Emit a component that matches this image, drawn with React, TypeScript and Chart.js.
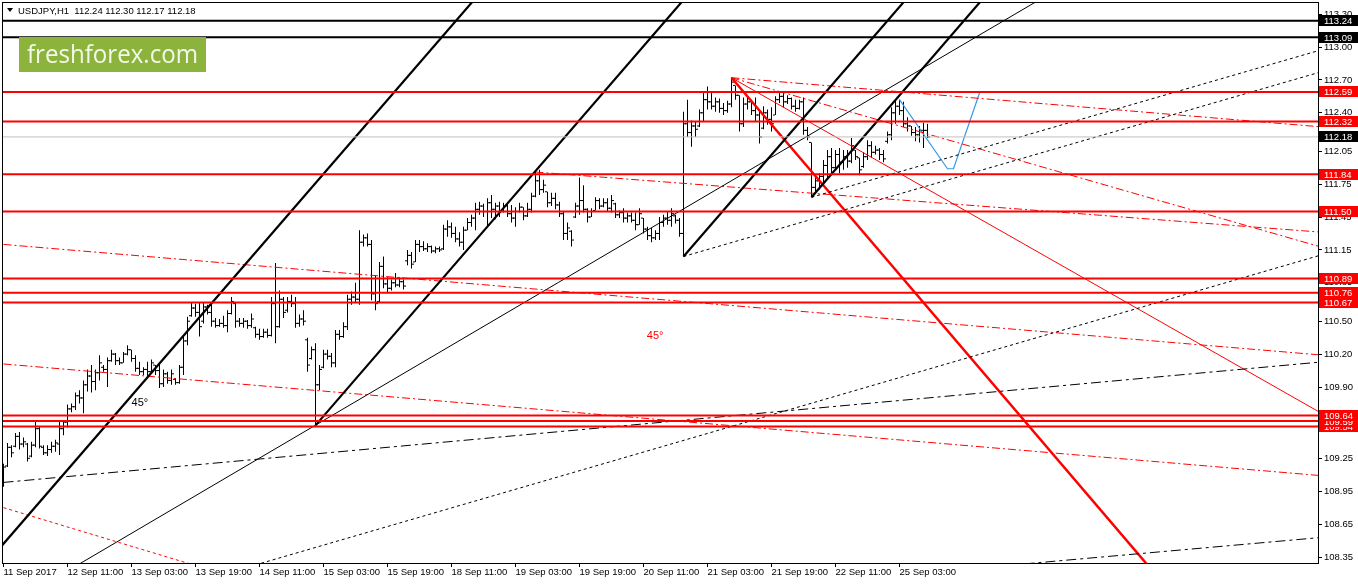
import React, { useEffect, useRef } from "react";
import { Chart, registerables } from "chart.js";

Chart.register(...registerables);

// ---------------- DATA ----------------
const SYMBOL_TITLE = "USDJPY,H1  112.24 112.30 112.17 112.18";
const LOGO_TEXT = "freshforex.com";

const TIME_TICK_BARS = [0, 16, 32, 48, 64, 80, 96, 112, 128, 144, 160, 176, 192, 208, 224];
const TIME_LABELS = [
  "11 Sep 2017", "12 Sep 11:00", "13 Sep 03:00", "13 Sep 19:00", "14 Sep 11:00",
  "15 Sep 03:00", "15 Sep 19:00", "18 Sep 11:00", "19 Sep 03:00", "19 Sep 19:00",
  "20 Sep 11:00", "21 Sep 03:00", "21 Sep 19:00", "22 Sep 11:00", "25 Sep 03:00",
];

const PRICE_TICKS = [113.3, 113.0, 112.7, 112.4, 112.05, 111.75, 111.45, 111.15, 110.85,
  110.5, 110.2, 109.9, 109.6, 109.25, 108.95, 108.65, 108.35];

const OPEN = [
  109.05, 109.18, 109.35, 109.36, 109.45, 109.38, 109.38, 109.27, 109.37, 109.52,
  109.35, 109.30, 109.33, 109.36, 109.38, 109.52, 109.58, 109.70, 109.72, 109.82,
  109.80, 109.92, 110.00, 109.95, 110.03, 110.08, 110.06, 110.14, 110.20, 110.14,
  110.12, 110.20, 110.24, 110.16, 110.07, 110.04, 110.06, 110.04, 110.10, 110.05,
  109.93, 110.02, 109.96, 109.97, 109.94, 110.08, 110.32, 110.55, 110.62, 110.58,
  110.50, 110.63, 110.58, 110.50, 110.46, 110.48, 110.46, 110.57, 110.66, 110.50,
  110.48, 110.50, 110.46, 110.44, 110.38, 110.36, 110.40, 110.37, 110.66, 110.45,
  110.70, 110.60, 110.68, 110.66, 110.48, 110.52, 110.33, 110.16, 110.24, 109.92,
  110.08, 110.20, 110.18, 110.12, 110.38, 110.36, 110.45, 110.70, 110.72, 110.70,
  111.22, 111.26, 111.20, 110.75, 110.68, 111.00, 110.84, 110.80, 110.85, 110.83,
  110.86, 111.05, 111.10, 111.04, 111.20, 111.18, 111.16, 111.18, 111.14, 111.16,
  111.16, 111.34, 111.36, 111.30, 111.25, 111.22, 111.33, 111.40, 111.44, 111.52,
  111.55, 111.50, 111.58, 111.52, 111.55, 111.50, 111.55, 111.48, 111.44, 111.50,
  111.54, 111.46, 111.52, 111.64, 111.78, 111.70, 111.68, 111.58, 111.62, 111.56,
  111.48, 111.30, 111.32, 111.45, 111.55, 111.60, 111.52, 111.45, 111.51, 111.60,
  111.55, 111.58, 111.53, 111.57, 111.47, 111.49, 111.44, 111.46, 111.42, 111.38,
  111.44, 111.34, 111.28, 111.26, 111.30, 111.40, 111.44, 111.42, 111.46, 111.42,
  111.30, 112.30, 112.22, 112.28, 112.28, 112.40, 112.52, 112.50, 112.46, 112.50,
  112.44, 112.42, 112.48, 112.65, 112.56, 112.30, 112.48, 112.50, 112.42, 112.38,
  112.26, 112.40, 112.34, 112.38, 112.52, 112.55, 112.50, 112.53, 112.46, 112.44,
  112.50, 112.24, 112.13, 111.72, 111.78, 111.82, 111.92, 112.00, 111.90, 112.02,
  111.95, 112.00, 111.96, 112.06, 111.99, 111.91, 112.00, 112.10, 112.04, 112.06,
  112.02, 112.14, 112.20, 112.40, 112.46, 112.42, 112.30, 112.28, 112.22, 112.20,
  112.24, 112.24,
];

const HIGH = [
  109.20, 109.39, 109.37, 109.48, 109.49, 109.44, 109.39, 109.40, 109.58, 109.54,
  109.37, 109.37, 109.40, 109.42, 109.58, 109.60, 109.74, 109.75, 109.85, 109.87,
  109.96, 110.06, 110.10, 110.06, 110.19, 110.10, 110.17, 110.24, 110.21, 110.17,
  110.22, 110.28, 110.24, 110.19, 110.13, 110.08, 110.13, 110.15, 110.10, 110.12,
  110.06, 110.04, 110.06, 109.98, 110.10, 110.36, 110.54, 110.67, 110.66, 110.67,
  110.67, 110.65, 110.66, 110.53, 110.52, 110.55, 110.60, 110.72, 110.67, 110.53,
  110.53, 110.51, 110.57, 110.45, 110.43, 110.43, 110.43, 110.72, 111.03, 110.78,
  110.72, 110.72, 110.74, 110.72, 110.56, 110.60, 110.35, 110.27, 110.30, 110.10,
  110.24, 110.24, 110.21, 110.42, 110.42, 110.49, 110.74, 110.77, 110.85, 111.33,
  111.29, 111.30, 111.24, 110.92, 111.04, 111.09, 110.90, 110.88, 110.94, 110.90,
  110.88, 111.15, 111.13, 111.24, 111.24, 111.23, 111.21, 111.19, 111.18, 111.18,
  111.38, 111.42, 111.40, 111.36, 111.31, 111.36, 111.44, 111.47, 111.58, 111.59,
  111.57, 111.62, 111.65, 111.58, 111.59, 111.58, 111.58, 111.56, 111.54, 111.58,
  111.54, 111.58, 111.67, 111.86, 111.88, 111.79, 111.68, 111.67, 111.67, 111.59,
  111.50, 111.40, 111.33, 111.58, 111.81, 111.74, 111.53, 111.53, 111.63, 111.62,
  111.62, 111.62, 111.65, 111.58, 111.51, 111.53, 111.49, 111.49, 111.49, 111.53,
  111.44, 111.36, 111.35, 111.33, 111.45, 111.47, 111.50, 111.53, 111.47, 111.44,
  112.41, 112.52, 112.33, 112.32, 112.43, 112.58, 112.64, 112.59, 112.54, 112.53,
  112.49, 112.51, 112.72, 112.65, 112.56, 112.54, 112.55, 112.52, 112.54, 112.43,
  112.46, 112.43, 112.45, 112.55, 112.59, 112.58, 112.56, 112.54, 112.52, 112.52,
  112.54, 112.27, 112.13, 111.83, 111.85, 111.97, 112.06, 112.08, 112.06, 112.08,
  112.06, 112.06, 112.17, 112.06, 111.99, 112.04, 112.15, 112.14, 112.10, 112.08,
  112.06, 112.23, 112.45, 112.52, 112.52, 112.50, 112.36, 112.28, 112.27, 112.28,
  112.31, 112.30,
];

const LOW = [
  108.99, 109.17, 109.26, 109.35, 109.33, 109.35, 109.22, 109.26, 109.35, 109.34,
  109.28, 109.27, 109.30, 109.31, 109.28, 109.46, 109.53, 109.67, 109.69, 109.75,
  109.66, 109.86, 109.85, 109.87, 109.96, 110.04, 109.90, 110.13, 110.10, 110.10,
  110.12, 110.19, 110.13, 110.04, 110.01, 110.01, 110.00, 110.03, 110.01, 109.89,
  109.90, 109.93, 109.92, 109.92, 109.93, 110.01, 110.28, 110.54, 110.54, 110.36,
  110.48, 110.56, 110.45, 110.44, 110.45, 110.44, 110.40, 110.56, 110.44, 110.45,
  110.44, 110.43, 110.44, 110.35, 110.33, 110.35, 110.35, 110.36, 110.30, 110.44,
  110.53, 110.58, 110.63, 110.44, 110.45, 110.46, 110.04, 110.15, 109.55, 109.87,
  110.07, 110.15, 110.08, 110.08, 110.33, 110.35, 110.42, 110.65, 110.67, 110.65,
  111.18, 111.18, 110.69, 110.60, 110.67, 110.80, 110.76, 110.78, 110.81, 110.81,
  110.79, 111.01, 110.98, 111.04, 111.13, 111.14, 111.13, 111.12, 111.12, 111.13,
  111.15, 111.27, 111.26, 111.22, 111.18, 111.15, 111.33, 111.36, 111.33, 111.47,
  111.45, 111.36, 111.44, 111.43, 111.45, 111.49, 111.45, 111.40, 111.36, 111.49,
  111.42, 111.45, 111.49, 111.63, 111.65, 111.67, 111.54, 111.55, 111.52, 111.45,
  111.24, 111.24, 111.18, 111.44, 111.47, 111.49, 111.40, 111.45, 111.51, 111.52,
  111.54, 111.50, 111.49, 111.44, 111.44, 111.40, 111.40, 111.40, 111.33, 111.38,
  111.30, 111.24, 111.22, 111.24, 111.24, 111.36, 111.38, 111.36, 111.39, 111.27,
  111.09, 112.18, 112.09, 112.18, 112.27, 112.32, 112.43, 112.43, 112.41, 112.40,
  112.38, 112.40, 112.45, 112.52, 112.23, 112.27, 112.43, 112.38, 112.32, 112.12,
  112.25, 112.29, 112.23, 112.38, 112.49, 112.45, 112.48, 112.43, 112.41, 112.43,
  112.20, 112.15, 111.63, 111.68, 111.70, 111.77, 111.79, 111.85, 111.89, 111.85,
  111.88, 111.90, 111.94, 111.97, 111.83, 111.90, 111.97, 111.99, 112.02, 111.97,
  111.95, 112.12, 112.15, 112.30, 112.38, 112.27, 112.23, 112.19, 112.14, 112.13,
  112.08, 112.17,
];

const CLOSE = [
  109.17, 109.35, 109.30, 109.45, 109.38, 109.40, 109.25, 109.37, 109.52, 109.36,
  109.30, 109.33, 109.36, 109.39, 109.52, 109.58, 109.70, 109.72, 109.82, 109.80,
  109.92, 110.00, 109.95, 110.03, 110.12, 110.06, 110.14, 110.20, 110.14, 110.12,
  110.20, 110.24, 110.16, 110.07, 110.04, 110.06, 110.04, 110.12, 110.05, 109.93,
  110.02, 109.96, 110.02, 109.94, 110.08, 110.32, 110.50, 110.62, 110.58, 110.45,
  110.63, 110.58, 110.50, 110.46, 110.48, 110.46, 110.57, 110.68, 110.50, 110.48,
  110.50, 110.46, 110.52, 110.38, 110.36, 110.40, 110.37, 110.66, 110.45, 110.70,
  110.58, 110.68, 110.66, 110.48, 110.52, 110.50, 110.10, 110.24, 109.92, 110.06,
  110.20, 110.18, 110.12, 110.38, 110.36, 110.45, 110.70, 110.72, 110.70, 111.22,
  111.26, 111.20, 110.75, 110.66, 111.00, 110.84, 110.80, 110.85, 110.83, 110.86,
  110.82, 111.10, 111.02, 111.20, 111.18, 111.16, 111.18, 111.14, 111.16, 111.15,
  111.34, 111.36, 111.30, 111.25, 111.22, 111.33, 111.40, 111.44, 111.52, 111.55,
  111.50, 111.58, 111.52, 111.55, 111.50, 111.55, 111.48, 111.44, 111.50, 111.54,
  111.46, 111.52, 111.64, 111.78, 111.70, 111.74, 111.58, 111.62, 111.56, 111.48,
  111.30, 111.35, 111.24, 111.55, 111.60, 111.52, 111.45, 111.50, 111.60, 111.55,
  111.58, 111.53, 111.60, 111.47, 111.49, 111.44, 111.46, 111.42, 111.38, 111.48,
  111.34, 111.28, 111.26, 111.30, 111.40, 111.44, 111.42, 111.48, 111.42, 111.30,
  112.30, 112.22, 112.28, 112.25, 112.40, 112.52, 112.50, 112.46, 112.50, 112.44,
  112.42, 112.48, 112.68, 112.56, 112.30, 112.48, 112.50, 112.42, 112.38, 112.18,
  112.40, 112.34, 112.30, 112.52, 112.55, 112.50, 112.53, 112.46, 112.44, 112.50,
  112.24, 112.18, 111.72, 111.78, 111.82, 111.92, 112.00, 111.90, 112.02, 111.95,
  112.00, 111.96, 112.10, 112.00, 111.88, 112.00, 112.10, 112.04, 112.06, 112.02,
  111.98, 112.20, 112.40, 112.46, 112.42, 112.30, 112.28, 112.22, 112.20, 112.24,
  112.24, 112.18,
];

// horizontal levels
const RED_LEVELS = [112.59, 112.32, 111.84, 111.5, 110.89, 110.76, 110.67, 109.54, 109.59, 109.64];
const BLACK_LEVELS = [113.24, 113.09];
const BID_LEVEL = 112.18;

// trend lines: [bar index, price] pairs
const THICK_BLACK_TRENDS = [
  [[-5, 108.26], [125, 113.74]],
  [[78, 109.55], [175, 113.64]],
  [[170, 111.09], [240, 114.04]],
  [[202, 111.63], [260, 114.08]],
];
const THIN_BLACK_TRENDS = [[[0, 107.88], [300, 114.31]]];
const DOTTED_BLACK_TRENDS = [
  [[170, 111.09], [330, 112.78]],
  [[202, 111.63], [330, 112.98]],
  [[50, 108.14], [330, 111.11]],
];
const DASHDOT_BLACK_TRENDS = [
  [[0, 109.03], [330, 110.13]],
  [[250, 108.27], [330, 108.53]],
];
const THICK_RED_TRENDS = [[[182, 112.72], [300, 107.68]]];
const THIN_RED_TRENDS = [[[182, 112.72], [330, 109.65]]];
const DASHED_RED_TRENDS = [
  [[182, 112.72], [330, 112.27]],
  [[182, 112.72], [330, 111.17]],
  [[133, 111.86], [330, 111.31]],
  [[0, 111.2], [330, 110.19]],
  [[0, 110.11], [330, 109.09]],
];
const DOTTED_RED_TRENDS = [[[0, 108.8], [60, 108.14]]];
const BLUE_PATH = [[224, 112.52], [236, 111.89], [237.5, 111.89], [244, 112.58]];

const NOTE_BARS = [34.1, 162.9];
const NOTE_PRICES = [109.755, 110.366];
const NOTE_TEXTS = ["45°", "45°"];
const NOTE_COLORS = ["#000000", "#ff0000"];

// ---------------- CHART ----------------
const FONT_FAMILY = "'Liberation Sans', Arial, sans-serif";
const RED = "#ff0000";

type Pt = number[];
const toXY = (pts: Pt[]) => pts.map(([x, y]) => ({ x, y }));
const lineDs = (pts: Pt[], color: string, width: number, dash: number[] = []) => ({
  type: "line" as const,
  data: toXY(pts),
  borderColor: color,
  borderWidth: width,
  borderDash: dash,
  pointRadius: 0,
  pointHoverRadius: 0,
  fill: false,
  tension: 0,
  clip: 0,
  order: 1,
});

const overlayPlugin = {
  id: "mt4Overlay",
  afterDraw(chart: any) {
    const { ctx, chartArea } = chart;
    const xs = chart.scales.x;
    const ys = chart.scales.y;
    ctx.save();

    // frame
    ctx.strokeStyle = "#000";
    ctx.lineWidth = 1;
    ctx.setLineDash([]);
    ctx.strokeRect(chartArea.left + 0.5, chartArea.top + 0.5,
      chartArea.right - chartArea.left, chartArea.bottom - chartArea.top);

    // angle notes
    ctx.font = `11px ${FONT_FAMILY}`;
    ctx.textAlign = "center";
    ctx.textBaseline = "middle";
    NOTE_TEXTS.forEach((t, i) => {
      ctx.fillStyle = NOTE_COLORS[i];
      ctx.fillText(t, xs.getPixelForValue(NOTE_BARS[i]), ys.getPixelForValue(NOTE_PRICES[i]));
    });

    // price tags on the right axis
    const boxLeft = chartArea.right + 1;
    const boxW = chart.width - boxLeft;
    ctx.font = `9.5px ${FONT_FAMILY}`;
    ctx.textAlign = "left";
    ctx.textBaseline = "middle";
    const tag = (v: number, bg: string) => {
      const py = ys.getPixelForValue(v);
      const top = Math.round(py - 5.5);
      ctx.fillStyle = bg;
      ctx.fillRect(boxLeft, top, boxW, 11);
      ctx.fillStyle = "#ffffff";
      ctx.fillText(v.toFixed(2), chartArea.right + 6, top + 6);
    };
    BLACK_LEVELS.forEach((v) => tag(v, "#000000"));
    RED_LEVELS.forEach((v) => tag(v, RED));
    tag(BID_LEVEL, "#000000");

    // title
    ctx.fillStyle = "#000";
    ctx.beginPath();
    ctx.moveTo(7, 8);
    ctx.lineTo(13, 8);
    ctx.lineTo(10, 12);
    ctx.closePath();
    ctx.fill();
    ctx.font = `9.5px ${FONT_FAMILY}`;
    ctx.textAlign = "left";
    ctx.textBaseline = "middle";
    ctx.fillText(SYMBOL_TITLE, 18, 11);

    // logo
    ctx.fillStyle = "#8cb43c";
    ctx.fillRect(19, 37, 187, 35);
    ctx.fillStyle = "#f4f8ea";
    ctx.font = `26px 'Open Sans', 'Noto Sans', sans-serif`;
    ctx.textBaseline = "alphabetic";
    ctx.fillText(LOGO_TEXT, 27, 63, 171);

    ctx.restore();
  },
};

export default function App() {
  const ref = useRef<HTMLCanvasElement>(null);

  useEffect(() => {
    document.body.style.margin = "0";
    const canvas = ref.current;
    if (!canvas) return;

    const bars = HIGH.map((h, i) => ({ x: i, y: [LOW[i], h] }));
    const opens = OPEN.map((o, i) => ({ x: i - 0.375, y: o }));
    const closes = CLOSE.map((c, i) => ({ x: i + 0.375, y: c }));

    const datasets: any[] = [];
    // horizontal levels
    BLACK_LEVELS.forEach((v) => datasets.push(lineDs([[-5, v], [340, v]], "#000", 2)));
    RED_LEVELS.forEach((v) => datasets.push(lineDs([[-5, v], [340, v]], RED, 2)));
    datasets.push(lineDs([[-5, BID_LEVEL], [340, BID_LEVEL]], "#c0c0c0", 1));
    // trend lines
    THICK_BLACK_TRENDS.forEach((p) => datasets.push(lineDs(p, "#000", 2.2)));
    THIN_BLACK_TRENDS.forEach((p) => datasets.push(lineDs(p, "#000", 1)));
    DOTTED_BLACK_TRENDS.forEach((p) => datasets.push(lineDs(p, "#000", 1, [3, 3])));
    DASHDOT_BLACK_TRENDS.forEach((p) => datasets.push(lineDs(p, "#000", 1, [10, 4, 3, 4])));
    THICK_RED_TRENDS.forEach((p) => datasets.push(lineDs(p, RED, 2.5)));
    THIN_RED_TRENDS.forEach((p) => datasets.push(lineDs(p, RED, 1)));
    DASHED_RED_TRENDS.forEach((p) => datasets.push(lineDs(p, RED, 1, [8, 3, 2, 3])));
    DOTTED_RED_TRENDS.forEach((p) => datasets.push(lineDs(p, RED, 1, [3, 3])));
    datasets.push(lineDs(BLUE_PATH, "#3399e6", 1.2));

    // OHLC bars
    datasets.push({
      type: "bar",
      data: bars,
      backgroundColor: "#000",
      borderWidth: 0,
      barThickness: 1,
      inflateAmount: 0,
      grouped: false,
      order: 10,
    });
    datasets.push({
      type: "line",
      data: opens,
      showLine: false,
      pointStyle: "line",
      pointRadius: 1,
      pointHoverRadius: 1,
      pointBorderColor: "#000",
      pointBorderWidth: 1,
      order: 10,
    });
    datasets.push({
      type: "line",
      data: closes,
      showLine: false,
      pointStyle: "line",
      pointRadius: 1,
      pointHoverRadius: 1,
      pointBorderColor: "#000",
      pointBorderWidth: 1,
      order: 10,
    });

    const tickFont = { family: FONT_FAMILY, size: 9.5 };

    const chart = new Chart(canvas, {
      type: "line",
      data: { datasets },
      options: {
        animation: false,
        responsive: false,
        devicePixelRatio: 1,
        events: [],
        layout: { padding: { left: 2, top: 2, right: 0, bottom: 0 } },
        plugins: { legend: { display: false }, tooltip: { enabled: false }, title: { display: false } },
        scales: {
          x: {
            type: "linear",
            position: "bottom",
            min: -0.375,
            max: 328.625,
            offset: false,
            bounds: "data",
            grid: { display: true, drawOnChartArea: false, drawTicks: true, tickLength: 4, color: "#000", offset: false },
            border: { display: true, color: "#000", width: 1 },
            ticks: {
              autoSkip: false,
              maxRotation: 0,
              minRotation: 0,
              align: "start",
              padding: 0,
              color: "#000",
              font: tickFont,
              callback: (_v: any, idx: number) => TIME_LABELS[idx],
            },
            afterBuildTicks: (s: any) => {
              s.ticks = TIME_TICK_BARS.map((v) => ({ value: v }));
            },
            afterFit: (s: any) => {
              s.height = 21;
              s.paddingLeft = 0;
              s.paddingRight = 0;
            },
          } as any,
          y: {
            type: "linear",
            position: "right",
            min: 108.2953,
            max: 113.4103,
            beginAtZero: false,
            bounds: "data",
            grid: { display: true, drawOnChartArea: false, drawTicks: true, tickLength: 4, color: "#000" },
            border: { display: true, color: "#000", width: 1 },
            ticks: {
              autoSkip: false,
              padding: 2,
              color: "#000",
              font: tickFont,
              callback: (v: any) => Number(v).toFixed(2),
            },
            afterBuildTicks: (s: any) => {
              s.ticks = PRICE_TICKS.map((v) => ({ value: v }));
            },
            afterFit: (s: any) => {
              s.width = 40;
              s.paddingTop = 0;
              s.paddingBottom = 0;
            },
          } as any,
        },
      } as any,
      plugins: [overlayPlugin],
    });

    return () => chart.destroy();
  }, []);

  return (
    <div style={{ position: "fixed", left: 0, top: 0, width: 1358, height: 584, background: "#fff" }}>
      <canvas ref={ref} width={1358} height={584} style={{ display: "block", width: 1358, height: 584 }} />
    </div>
  );
}
